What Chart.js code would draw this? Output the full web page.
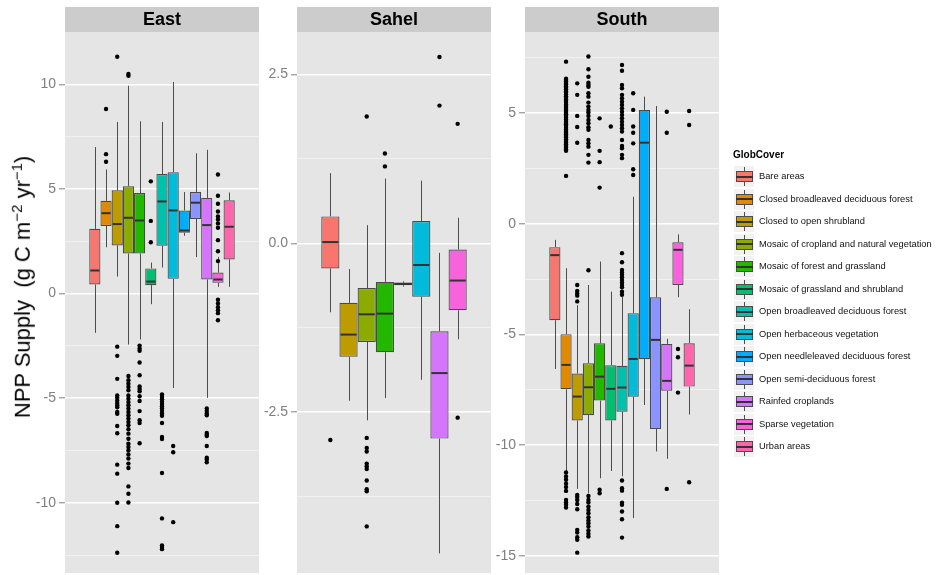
<!DOCTYPE html>
<html>
<head>
<meta charset="utf-8">
<script src="https://cdn.jsdelivr.net/npm/chart.js@4.4.1/dist/chart.umd.min.js"></script>
<style>
  html, body { margin:0; padding:0; background:#fff; }
  body { width:938px; height:575px; overflow:hidden; position:relative; font-family:"Liberation Sans", Arial, Helvetica, sans-serif; }
  canvas { position:absolute; top:0; }
  #ytitle { position:absolute; left:22px; top:287px; transform:translate(-50%,-50%) rotate(-90deg); white-space:nowrap; font-size:22px; color:#000; }
  #ytitle sup { font-size:0.68em; }
  #legend { position:absolute; left:733px; top:0; width:205px; height:575px; }
  #legend .ttl { position:absolute; left:0; top:149px; font-size:10px; font-weight:bold; color:#000; }
  #legend .item { position:absolute; left:0; height:21px; width:200px; }
  #legend .key { position:absolute; left:1px; top:0; width:20px; height:21px; background:#F2F2F2; }
  #legend .wh { position:absolute; left:10px; top:1px; width:1px; height:19px; background:#4d4d4d; }
  #legend .bx { position:absolute; left:2px; top:5px; width:17px; height:11px; box-sizing:border-box; border:1px solid #4d4d4d; }
  #legend .md { position:absolute; left:2px; top:9.5px; width:17px; height:2px; background:#333; }
  #legend .lab { position:absolute; left:26px; top:0; line-height:21px; white-space:nowrap; font-size:9.3px; color:#111; }
</style>
</head>
<body>
<canvas id="east" width="262" height="575" style="left:0px"></canvas>
<canvas id="sahel" width="235" height="575" style="left:259px"></canvas>
<canvas id="south" width="228" height="575" style="left:494px"></canvas>
<div id="ytitle">NPP Supply&nbsp; (g C m<sup>−2</sup> yr<sup>−1</sup>)</div>
<div id="legend"><div class="ttl">GlobCover</div></div>
<script>
// ---------------- DATA ----------------
const categories = [
  "Bare areas", "Closed broadleaved deciduous forest", "Closed to open shrubland",
  "Mosaic of cropland and natural vegetation", "Mosaic of forest and grassland",
  "Mosaic of grassland and shrubland", "Open broadleaved deciduous forest",
  "Open herbaceous vegetation", "Open needleleaved deciduous forest",
  "Open semi-deciduous forest", "Rainfed croplands", "Sparse vegetation", "Urban areas"
];
const colors = ["#F8766D","#E18A00","#BE9C00","#8CAB00","#24B700","#00BE70","#00C1AB",
                "#00BBDA","#00ACFC","#8B93FF","#D575FE","#F962DD","#FF65AC"];

// East
const eastLower  = [-1.88, 2.21, 0.81, -2.44, -2.20, -0.51, 1.24, -4.52, 2.76, 1.74, -4.99, 0.32, 0.32];
const eastQ1     = [0.43, 3.23, 2.30, 1.91, 1.91, 0.40, 2.28, 0.70, 2.90, 3.56, 0.67, 0.51, 1.63];
const eastMedian = [1.10, 3.84, 3.32, 3.62, 3.49, 0.57, 4.40, 3.97, 3.01, 4.34, 3.27, 0.67, 3.19];
const eastQ3     = [3.09, 4.43, 4.93, 5.13, 4.80, 1.20, 5.71, 5.80, 3.97, 4.85, 4.57, 1.00, 4.46];
const eastUpper  = [7.00, 5.93, 8.20, 9.93, 8.23, 1.48, 8.20, 10.11, 4.85, 6.70, 6.87, 1.75, 4.83];
const eastOutliers = [
  [],
  [8.82, 6.66, 6.30],
  [11.32, -2.54, -2.98, -4.08, -4.87, -4.98, -5.11, -5.23, -5.34, -5.44, -5.66, -5.75, -6.33, -6.68, -8.18, -8.61, -10.0, -11.12, -12.39],
  [10.49, 10.41, -3.94, -4.15, -4.31, -4.47, -4.63, -4.87, -5.03, -5.19, -5.34, -5.50, -5.66, -5.82, -5.98, -6.14, -6.30, -6.49, -6.70, -6.94, -7.18, -7.34, -7.50, -7.69, -7.89, -8.13, -8.34, -9.22, -9.57, -9.99],
  [-2.49, -2.63, -2.74, -3.30, -3.91, -4.44, -4.56, -4.67, -4.91, -5.14, -5.62, -6.06, -6.19, -7.16],
  [5.36, 3.47, 2.45],
  [-4.83, -4.95, -5.06, -5.17, -5.28, -5.39, -5.50, -5.62, -5.73, -5.84, -6.19, -6.86, -6.96, -8.58, -10.75, -12.04, -12.12, -12.22],
  [-7.29, -7.59, -10.93],
  [],
  [],
  [-5.50, -5.62, -5.74, -5.82, -6.67, -6.75, -6.81, -7.29, -7.85, -7.94, -8.07],
  [5.69, 4.67, 4.29, 3.92, 3.68, 3.54, 3.35, 3.14, 2.55, 2.02, 1.55, -0.30, -0.48, -0.66, -0.80, -0.94, -1.28],
  []
];

// Sahel (null = land cover class absent)
const sahelLower  = [-1.02, null, -2.33, -2.62, -2.29, -0.64, null, -2.02, null, null, -4.59, -1.42, null];
const sahelQ1     = [-0.37, null, -1.68, -1.46, -1.61, -0.62, null, -0.79, null, null, -2.89, -0.99, null];
const sahelMedian = [0.02, null, -1.35, -1.05, -1.04, -0.60, null, -0.32, null, null, -1.92, -0.55, null];
const sahelQ3     = [0.40, null, -0.88, -0.66, -0.57, -0.58, null, 0.33, null, null, -1.30, -0.09, null];
const sahelUpper  = [1.04, null, -0.38, 0.27, 0.96, -0.56, null, 0.93, null, null, -0.14, 0.38, null];
const sahelOutliers = [
  [-2.91], [], [],
  [1.88, -2.88, -3.03, -3.08, -3.26, -3.30, -3.34, -3.51, -3.64, -3.67, -4.19],
  [1.33, 1.14], [], [], [], [], [],
  [2.76, 2.04],
  [1.77, -2.58],
  []
];

// South
const southLower  = [-6.55, -11.19, -11.97, -12.17, -11.49, -11.16, -11.40, -13.29, -8.18, -10.28, -10.61, -3.31, -8.61];
const southQ1     = [-4.35, -7.47, -8.88, -8.64, -7.98, -8.88, -8.48, -7.81, -6.11, -9.26, -7.54, -2.76, -7.35];
const southMedian = [-1.41, -6.37, -7.80, -7.38, -6.90, -7.45, -7.39, -6.10, 3.67, -5.24, -7.09, -1.17, -6.40];
const southQ3     = [-1.05, -4.98, -6.76, -6.29, -5.39, -6.38, -6.41, -4.03, 5.15, -3.31, -5.42, -0.83, -5.39];
const southUpper  = [-0.72, -2.00, -3.67, -2.76, -1.70, -3.06, -3.28, 1.23, 5.75, 5.33, -5.19, -0.47, -3.85];
const southOutliers = [
  [],
  [7.33, 6.56, 6.50, 6.43, 6.37, 6.30, 6.22, 6.15, 6.08, 5.99, 5.92, 5.85, 5.77, 5.70, 5.62, 5.55, 5.47, 5.40, 5.33, 5.25, 5.17, 5.10, 5.02, 4.95, 4.88, 4.80, 4.72, 4.65, 4.57, 4.50, 4.43, 4.35, 4.27, 4.20, 4.12, 4.05, 3.97, 3.90, 3.82, 3.75, 3.67, 3.60, 3.52, 3.45, 3.37, 3.30, 2.17,
   -11.23, -11.41, -11.56, -11.74, -11.89, -12.06, -12.47, -12.59, -12.69, -12.81],
  [6.35, 5.83, 4.88, 4.38, 3.67, -2.76, -3.03, -3.14, -3.24, -3.50, -12.24, -12.34, -12.47, -12.65, -12.89, -13.82, -13.94, -14.15, -14.27, -14.85],
  [7.56, 6.99, 6.65, 6.38, 6.28, 6.20, 5.90, 5.75, 5.48, 5.30, 5.15, 5.03, 4.88, 4.70, 4.55, 4.37, 4.25, 3.79, 3.64, 3.49, 3.12, 2.77, -2.09,
   -12.29, -12.47, -12.59, -12.77, -12.92, -13.07, -13.25, -13.40, -13.52, -13.67, -13.85, -14.00, -14.12],
  [4.77, 3.30, 2.79, 1.64, -12.01, -12.17],
  [4.40],
  [7.18, 6.92, 6.28, 6.13, 5.83, 5.68, 5.52, 5.37, 5.22, 5.07, 4.92, 4.77, 4.62, 4.47, 4.32, 4.17, 3.79, 3.52, 3.42, 3.12, 2.97,
   -1.32, -1.73, -2.08, -2.20, -2.30, -2.41, -2.53, -2.65, -2.76, -2.86, -3.06, -3.20,
   -11.59, -11.94, -12.05, -12.59, -12.69, -12.99, -13.34, -14.17],
  [5.90, 5.15, 4.40, 4.12, 3.64, 2.47, 2.21],
  [],
  [],
  [5.07, 4.12, -11.97],
  [-5.65, -6.02, -7.62],
  [5.10, 4.47, -11.67]
];

// Axis ticks and ranges
const eastMajorTicks  = [-10, -5, 0, 5, 10];
const eastMinorTicks  = [-12.5, -7.5, -2.5, 2.5, 7.5];
const sahelMajorTicks = [-2.5, 0, 2.5];
const sahelMinorTicks = [-3.75, -1.25, 1.25];
const southMajorTicks = [-15, -10, -5, 0, 5];
const southMinorTicks = [-12.5, -7.5, -2.5, 2.5, 7.5];
const eastRange  = [-13.36, 12.5];
const sahelRange = [-4.88, 3.13];
const southRange = [-15.77, 8.67];

// ---------------- CHARTS ----------------
const FONT = '"Liberation Sans", Arial, Helvetica, sans-serif';

function boxPlugin(title, lower, median, upper, outliers) {
  return {
    id: 'boxExtras',
    beforeDraw(chart) {
      const {ctx, chartArea: a} = chart;
      ctx.save();
      ctx.fillStyle = '#E5E5E5';
      ctx.fillRect(a.left, a.top, a.right - a.left, a.bottom - a.top);
      ctx.fillStyle = '#CCCCCC';
      ctx.fillRect(a.left, 7, a.right - a.left, a.top - 7);
      ctx.fillStyle = '#000';
      ctx.font = 'bold 18px ' + FONT;
      ctx.textAlign = 'center';
      ctx.textBaseline = 'middle';
      ctx.fillText(title, (a.left + a.right) / 2, (7 + a.top) / 2 + 1);
      ctx.restore();
    },
    beforeDatasetsDraw(chart) {
      const {ctx} = chart;
      const y = chart.scales.y;
      ctx.save();
      ctx.strokeStyle = '#4d4d4d';
      ctx.lineWidth = 1;
      chart.data.datasets.forEach((ds, i) => {
        if (ds.data[0] == null) return;
        const el = chart.getDatasetMeta(i).data[0];
        const x = Math.round(el.x) + 0.5;
        ctx.beginPath();
        ctx.moveTo(x, y.getPixelForValue(upper[i]));
        ctx.lineTo(x, y.getPixelForValue(ds.data[0][1]));
        ctx.moveTo(x, y.getPixelForValue(ds.data[0][0]));
        ctx.lineTo(x, y.getPixelForValue(lower[i]));
        ctx.stroke();
      });
      ctx.restore();
    },
    afterDatasetsDraw(chart) {
      const {ctx, chartArea: a} = chart;
      const y = chart.scales.y;
      ctx.save();
      ctx.beginPath();
      ctx.rect(a.left, a.top, a.right - a.left, a.bottom - a.top);
      ctx.clip();
      chart.data.datasets.forEach((ds, i) => {
        if (ds.data[0] == null) return;
        const el = chart.getDatasetMeta(i).data[0];
        const half = el.width / 2;
        ctx.strokeStyle = '#333';
        ctx.lineWidth = 2;
        const my = y.getPixelForValue(median[i]);
        ctx.beginPath();
        ctx.moveTo(el.x - half + 1, my);
        ctx.lineTo(el.x + half - 1, my);
        ctx.stroke();
        ctx.fillStyle = '#000';
        (outliers[i] || []).forEach(v => {
          ctx.beginPath();
          ctx.arc(el.x, y.getPixelForValue(v), 2.2, 0, Math.PI * 2);
          ctx.fill();
        });
      });
      ctx.restore();
    }
  };
}

function buildPanel(id, title, lower, q1, median, q3, upper, outliers, majors, minors, range, axisWidth, decimals) {
  const isMajor = v => majors.some(m => Math.abs(m - v) < 1e-9);
  const datasets = categories.map((c, i) => ({
    label: c,
    data: [q1[i] == null ? null : [q1[i], q3[i]]],
    backgroundColor: colors[i],
    borderColor: '#4a4a4a',
    borderWidth: 1.2,
    borderSkipped: false,
    categoryPercentage: 0.75,
    barPercentage: 1.0,
    skipNull: true
  }));
  return new Chart(document.getElementById(id), {
    type: 'bar',
    data: { labels: [title], datasets },
    options: {
      responsive: false,
      animation: false,
      devicePixelRatio: 1,
      layout: { padding: { top: 32, bottom: 2, left: 0, right: 3 } },
      datasets: { bar: { skipNull: true } },
      plugins: { legend: { display: false }, tooltip: { enabled: false } },
      scales: {
        x: { display: false },
        y: {
          min: range[0], max: range[1],
          afterBuildTicks: axis => {
            axis.ticks = majors.concat(minors).sort((a, b) => a - b).map(v => ({ value: v }));
          },
          afterFit: s => { s.width = axisWidth; s.paddingTop = 0; s.paddingBottom = 0; },
          ticks: {
            autoSkip: false,
            padding: 3,
            color: '#7F7F7F',
            font: { family: FONT, size: 14 },
            callback: v => isMajor(v) ? (Math.abs(v) < 1e-9 ? (0).toFixed(decimals) : v.toFixed(decimals)) : ''
          },
          grid: {
            color: c => (c.tick && isMajor(c.tick.value)) ? '#FFFFFF' : '#F2F2F2',
            lineWidth: c => (c.tick && isMajor(c.tick.value)) ? 1.6 : 0.9,
            drawTicks: true,
            tickLength: 6,
            tickWidth: 1,
            tickColor: c => (c.tick && isMajor(c.tick.value)) ? '#7F7F7F' : 'rgba(0,0,0,0)'
          },
          border: { display: false }
        }
      }
    },
    plugins: [boxPlugin(title, lower, median, upper, outliers)]
  });
}

buildPanel('east', 'East', eastLower, eastQ1, eastMedian, eastQ3, eastUpper, eastOutliers,
           eastMajorTicks, eastMinorTicks, eastRange, 65, 0);
buildPanel('sahel', 'Sahel', sahelLower, sahelQ1, sahelMedian, sahelQ3, sahelUpper, sahelOutliers,
           sahelMajorTicks, sahelMinorTicks, sahelRange, 38, 1);
buildPanel('south', 'South', southLower, southQ1, southMedian, southQ3, southUpper, southOutliers,
           southMajorTicks, southMinorTicks, southRange, 31, 0);

// ---------------- LEGEND ----------------
const legend = document.getElementById('legend');
categories.forEach((c, i) => {
  const row = document.createElement('div');
  row.className = 'item';
  row.style.top = (166 + i * 22.5) + 'px';
  row.innerHTML = '<span class="key"><span class="wh"></span><span class="bx" style="background:' + colors[i] +
    '"></span><span class="md"></span></span><span class="lab"></span>';
  row.querySelector('.lab').textContent = c;
  legend.appendChild(row);
});
</script>
</body>
</html>
